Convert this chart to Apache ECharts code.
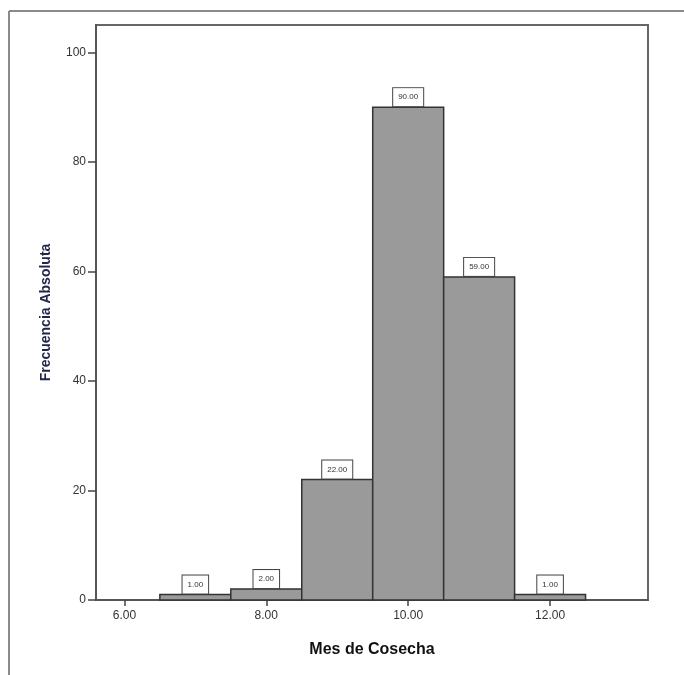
<!DOCTYPE html>
<html>
<head>
<meta charset="utf-8">
<script src="https://cdn.jsdelivr.net/npm/echarts@6/dist/echarts.min.js"></script>
<style>html,body{margin:0;padding:0;background:#fff;}#c{width:684px;height:675px;}</style>
</head>
<body>
<div id="c"></div>
<script>
const binStart = [6.5, 7.5, 8.5, 9.5, 10.5, 11.5];
const binEnd   = [7.5, 8.5, 9.5, 10.5, 11.5, 12.5];
const counts   = [1, 2, 22, 90, 59, 1];
const xTicks = [6, 8, 10, 12];
const yTicks = [0, 20, 40, 60, 80, 100];

const chart = echarts.init(document.getElementById('c'));
const data = counts.map((v, i) => [binStart[i], binEnd[i], v]);

chart.setOption({
  animation: false,
  backgroundColor: '#fff',
  graphic: [
    {type: 'line', shape: {x1: 9, y1: 11, x2: 9, y2: 675}, style: {stroke: '#8a8a8a', lineWidth: 2}},
    {type: 'line', shape: {x1: 9, y1: 11, x2: 684, y2: 11}, style: {stroke: '#8a8a8a', lineWidth: 2}}
  ],
  grid: {left: 96, right: 36, top: 25, bottom: 75, show: true, borderColor: '#666', borderWidth: 2, backgroundColor: '#fff'},
  xAxis: {
    type: 'value', min: 5.6, max: 13.38,
    name: 'Mes de Cosecha', nameLocation: 'middle', nameGap: 42,
    nameTextStyle: {fontFamily: 'Arial, Liberation Sans', fontWeight: 'bold', fontSize: 16, color: '#111'},
    axisLine: {show: true, onZero: false, lineStyle: {color: '#555', width: 2}},
    axisTick: {show: true, length: 6, lineStyle: {color: '#444', width: 1.5}, customValues: xTicks},
    axisLabel: {customValues: xTicks, formatter: v => v.toFixed(2), fontFamily: 'Arial, Liberation Sans', fontSize: 12, color: '#333', margin: 10},
    splitLine: {show: false}
  },
  yAxis: {
    type: 'value', min: 0, max: 105,
    name: 'Frecuencia Absoluta', nameLocation: 'middle', nameGap: 43, nameRotate: 90,
    nameTextStyle: {fontFamily: 'Arial, Liberation Sans', fontWeight: 'bold', fontSize: 14, color: '#23264a'},
    axisLine: {show: true, lineStyle: {color: '#555', width: 2}},
    axisTick: {show: true, length: 8, lineStyle: {color: '#444', width: 1.5}, customValues: yTicks},
    axisLabel: {customValues: yTicks, fontFamily: 'Arial, Liberation Sans', fontSize: 12, color: '#333', margin: 10},
    splitLine: {show: false}
  },
  series: [{
    type: 'custom',
    data: data,
    renderItem: function (params, api) {
      const p0 = api.coord([api.value(0), 0]);
      const p1 = api.coord([api.value(1), api.value(2)]);
      const cx = (p0[0] + p1[0]) / 2;
      return {
        type: 'group',
        children: [
          {type: 'rect', shape: {x: p0[0], y: p1[1], width: p1[0] - p0[0], height: p0[1] - p1[1]},
           style: {fill: '#9a9a9a', stroke: '#333', lineWidth: 1.5}},
          {type: 'text', x: cx, y: p1[1] - 1,
           style: {text: api.value(2).toFixed(2), fontFamily: 'Arial, Liberation Sans', fontSize: 8, fill: '#333',
                   align: 'center', verticalAlign: 'bottom', backgroundColor: '#fff', borderColor: '#444', borderWidth: 1,
                   padding: [5, 5, 5, 5]}}
        ]
      };
    }
  }]
});
</script>
</body>
</html>
